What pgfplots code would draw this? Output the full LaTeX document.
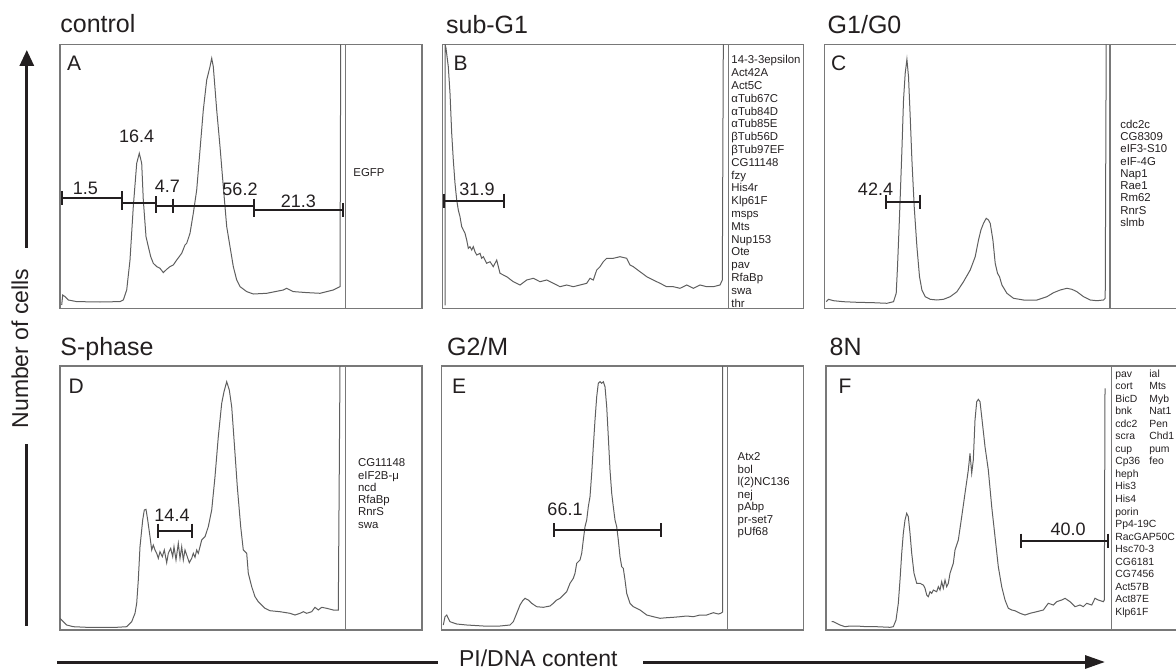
\documentclass[border=0pt]{standalone}
\usepackage{pgfplots}
\pgfplotsset{compat=1.18}
\usepackage{fontspec}
\setmainfont{Liberation Sans}
\usetikzlibrary{arrows.meta}

\definecolor{framegray}{RGB}{120,120,120}
\definecolor{tracegray}{RGB}{95,95,95}
\definecolor{ink}{RGB}{35,31,32}

% one histogram panel; units are image pixels (1px = 0.5pt)
\pgfplotsset{
  hist/.style={
    anchor=south west,
    scale only axis,
    width=142.75pt, height=132pt,
    xmin=0, xmax=285.5, ymin=0, ymax=264,
    ticks=none,
    axis line style={framegray, line width=0.6pt},
  },
  trace/.style={tracegray, line width=0.5pt, no markers},
  gate/.style={ink, line width=1pt, mark=|, mark size=3.5pt, mark options={solid}},
}
\tikzset{
  gatelabel/.style={font=\fontsize{9}{10}\selectfont, text=ink, inner sep=0pt},
  paneltitle/.style={font=\fontsize{12.5}{14}\selectfont, anchor=base west, inner sep=0pt, text=ink},
  panelletter/.style={font=\fontsize{10.5}{12}\selectfont, anchor=base west, inner sep=0pt, text=ink},
  genes/.style={font=\fontsize{5.7}{6.3}\selectfont, anchor=base west, inner sep=0pt, text=ink},
  genesF/.style={font=\fontsize{5.2}{6}\selectfont, anchor=base west, inner sep=0pt, text=ink},
}

\begin{document}
\begin{tikzpicture}[x=0.5pt, y=0.5pt]
\useasboundingbox (0,0) rectangle (1176,670);
\clip (0,0) rectangle (1176,670);

% ---------- A: control
\begin{axis}[hist, name=A, at={(60,361.7)}]
\addplot[trace] coordinates {
(1.7,3.3)(2.7,13.3)(5,11.7)(8.3,8.3)(16.7,6.7)(40,6.3)(60,6.7)(63.3,8.3)
(66.7,18.3)(70,48.3)(73.3,101.7)(76.7,145)(79.3,155)(81.7,145)(83.3,108.3)
(86,71.7)(88.3,61.7)(90.7,51.7)(93.3,45)(96.7,41.7)(100,40)(103.3,35.7)
(106.7,39)(110,41.7)(113.3,43.3)(116.7,48.3)(121.7,55)(125,63.3)(126.7,65)
(130,75)(133.3,95)(136.7,118.3)(140,158.3)(143.3,198.3)(146.7,228.3)
(150,241.7)(151.7,250)(153.3,241.7)(156.7,198.3)(160,161.7)(163.3,121.7)
(166.7,81.7)(170,61.7)(173.3,41.7)(176.7,28.3)(180,21.7)(186.7,16.7)
(193.3,14.3)(206.7,15)(223.3,18.3)(226.7,20)(233.3,16.7)(246.7,15.7)
(260,15)(273.3,18.3)(280,21.7)(280.7,264)};
\addplot[gate] coordinates {(2.3,110)(61.7,110)};
\addplot[gate] coordinates {(61.7,105)(96,105)};
\addplot[gate] coordinates {(96,102.6)(112.7,102.6)};
\addplot[gate] coordinates {(112.7,102.6)(194.3,102.6)};
\addplot[gate] coordinates {(194.3,98.3)(283.3,98.3)};
\node[gatelabel] at (axis cs:25.3,120) {1.5};
\node[gatelabel] at (axis cs:76.7,171.6) {16.4};
\node[gatelabel] at (axis cs:107.3,121.6) {4.7};
\node[gatelabel] at (axis cs:180,119.3) {56.2};
\node[gatelabel] at (axis cs:238.3,106.6) {21.3};
\end{axis}

% ---------- B: sub-G1
\begin{axis}[hist, name=B, at={(442.7,361.7)}]
\addplot[trace] coordinates {
(2.3,3)(2.3,264)(3.3,260)(5.6,241.6)(7.3,215)(9,175)(10.6,148.3)(12.3,125)
(14,108.3)(15.6,98.3)(17.3,91.6)(19,81.6)(20.6,78.3)(22.3,75)(24,68.3)
(25.6,60)(27.3,61.6)(29,58.3)(30.6,61.6)(32.3,56.6)(34,53.3)(37.3,55)
(39,50)(40.6,51.6)(44,45)(47.3,46.6)(50.6,41.6)(54,48.3)(57.3,35)(64,31.6)
(70.6,26.6)(77.3,23.3)(84,28.3)(90.6,30)(97.3,26.6)(104,28.3)(110.6,25)
(117.3,21.6)(124,23.3)(130.6,21.6)(137.3,23.3)(144,25)(147.3,30)(150.6,28.3)
(154,38.3)(157.3,41.6)(160.6,46.6)(164,50)(170.6,50)(177.3,51.6)(184,50)
(187.3,43.3)(190.6,41.6)(197.3,36.6)(204,31.6)(210.6,28.3)(217.3,25)
(224,21.6)(230.6,21.6)(237.3,20)(244,23.3)(250.6,20)(257.3,23.3)(264,21.6)
(270.6,21.6)(277.3,23.3)(279.6,28.3)(280.6,264)};
\addplot[gate] coordinates {(1.3,107.6)(61.3,107.6)};
\node[gatelabel] at (axis cs:34.3,119.3) {31.9};
\end{axis}

% ---------- C: G1/G0
\begin{axis}[hist, name=C, at={(824.5,361.7)}]
\addplot[trace] coordinates {
(1.7,6.6)(4,9)(9,7.6)(19,6.6)(32.4,6)(49,5.6)(62.4,5)(69,6.6)(71.7,15)
(73,41.6)(75,91.6)(77.4,158.3)(79,208.3)(80.7,235)(82.4,249)(84,231.6)
(85.7,191.6)(87.4,148.3)(89.7,101.6)(92.4,61.6)(95,31.6)(97.4,18.3)
(100.7,11.6)(105.7,9)(112.4,8.3)(119,9)(125.7,11.6)(132.4,16.6)(139,26.6)
(145.7,38.3)(150.7,51.6)(154,68.3)(156.4,78.3)(159,85)(161.7,90)(164,88.3)
(165.7,85)(168.4,68.3)(170.7,45)(173,35)(175,31.6)(177.4,23.3)(182.4,15)
(189,10)(199,8.3)(212.4,8.3)(222.4,11.6)(229,15.6)(235.7,18.3)(242.4,20)
(247.4,19)(252.4,16.6)(259,11.6)(265.7,8.3)(272.4,7.6)(279,8.3)(280.7,10)
(281.7,264)};
\addplot[gate] coordinates {(61.7,106.6)(95.7,106.6)};
\node[gatelabel] at (axis cs:51,119.3) {42.4};
\end{axis}

% ---------- D: S-phase
\begin{axis}[hist, name=D, at={(60,40)}]
\addplot[trace] coordinates {
(0,11.7)(3.3,8.3)(6.7,5)(13.3,3.3)(26.7,2.7)(40,2.7)(56.7,2.7)(66.7,3.3)
(71.7,8.3)(75,16.7)(76.7,26.7)(78.3,50)(80,83.3)(82.7,110)(84.3,120)
(86,120.7)(87.7,110)(90,93.3)(91.7,80)(93.3,85)(95,80)(96.7,76.7)(98.3,71.7)
(100,78.3)(102.3,73.3)(104.3,80)(106.7,67.3)(108.3,76.7)(110.7,81.7)
(112.7,73.3)(114,83.3)(116,70)(118.3,86.7)(120,71.7)(121.7,83.3)(123.3,70)
(125,80)(126.7,75)(129.3,67.3)(131.7,71.7)(133.3,76.7)(135,72.7)(136.7,80)
(138.3,76.7)(140,83.3)(141.7,90)(143.3,91.7)(145,93.3)(148.3,103.3)
(151.7,120)(155,153.3)(158.3,193.3)(161.7,226.7)(164,238.3)(166.7,248.3)
(169.3,240)(171.7,223.3)(174.3,186.7)(177.3,143.3)(180.7,103.3)(183.3,80)
(186.7,76.7)(188.3,56.7)(191.7,43.3)(195,33.3)(198.3,28.3)(201.7,25)
(205,21.7)(210,19.3)(220,18.3)(230,16.7)(235,15)(240,16.7)(243.3,18.3)
(246.7,16.7)(251.7,18.3)(255,22.7)(258.3,20)(261.7,22.7)(266.7,21.7)
(273.3,20)(278.3,20)(280,264)};
\addplot[gate] coordinates {(98.3,99.3)(131.7,99.3)};
\node[gatelabel] at (axis cs:112,114.7) {14.4};
\end{axis}

% ---------- E: G2/M
\begin{axis}[hist, name=E, at={(441.7,40)}]
\addplot[trace] coordinates {
(1.6,5)(3.3,13.3)(5,15)(6.6,11.7)(8.3,8.3)(15,6)(25,5)(41.6,4)(58.3,4)
(68.3,5)(71.6,8.3)(75,16.7)(78.3,25)(81,29.3)(83.3,31.7)(86.6,30)(90,26.7)
(95,23.3)(101.6,22.7)(108.3,24)(111.6,26.7)(115,30)(118.3,31.7)(121.6,35)
(125,38.3)(128.3,46.7)(131.6,51.7)(133.3,56.7)(135,66.7)(138.3,70)(140,76.7)
(141.6,90)(143.3,103.3)(145,110)(146.6,123.3)(148.3,133.3)(150,156.7)
(151.6,183.3)(153.3,210)(155,233.3)(156.6,246.7)(158.3,248.3)(160,246.7)
(161.6,248.3)(163.3,243.3)(165,223.3)(166.6,193.3)(168.3,160)(170,136.7)
(171.6,123.3)(173.3,110)(175,103.3)(176.6,90)(178.3,73.3)(180,63.3)
(181.6,61.7)(183.3,50)(185,36.7)(188.3,26.7)(191.6,23.3)(195,21.7)(198.3,20)
(205,15)(211.6,13.3)(218.3,11.7)(225,12.3)(231.6,12.7)(238.3,13.3)(245,14)
(251.6,13.3)(258.3,15)(265,15)(271.6,17.3)(276.6,16)(279,16.7)(281,18)
(281,264)};
\addplot[gate] coordinates {(112.3,100)(219,100)};
\node[gatelabel] at (axis cs:123.3,121) {66.1};
\end{axis}

% ---------- F: 8N
\begin{axis}[hist, name=F, at={(826,40)}]
\addplot[trace] coordinates {
(5.7,8.3)(7.3,8.3)(10.7,6.7)(14,5)(19,3.3)(24,4)(30.7,4)(40.7,3.3)(50.7,3.3)
(64,2.7)(67.3,3.3)(70,10)(72.3,26.7)(74,50)(75.7,76.7)(77.3,96.7)(79,110)
(80.7,116.7)(82.3,113.3)(84,96.7)(85.7,76.7)(88,56.7)(90.7,46.7)(94,46.7)
(97.3,45)(99,41.7)(100.7,35)(102.3,33.3)(104,38.3)(105.7,36.7)(107.3,40)
(110.7,38.3)(112.3,43.3)(114,40)(115.7,48.3)(117.3,41.7)(119,50)(120.7,43.3)
(122.3,46.7)(124,56.7)(127.3,66.7)(129,80)(132.3,90)(135.7,113.3)
(139,136.7)(142.3,160)(144,176.7)(145.7,156.7)(147.3,170)(149,210)
(150.7,228.3)(152.3,230.7)(154,228.3)(155.7,213.3)(159,183.3)(162.3,160)
(165.7,123.3)(169,93.3)(172.3,63.3)(175.7,43.3)(179,30)(182.3,21.7)
(185.7,20)(189,19.3)(194,16.7)(199,15)(204,16.7)(210.7,18.3)(217.3,20)
(222.3,26.7)(227.3,25)(230.7,28.3)(235.7,30)(239,31.7)(244,28.3)(249,23.3)
(254,25)(257.3,23.3)(260.7,26.7)(265.7,25)(269,31.7)(272.3,30)(277.3,28.3)
(278.3,30)(279,241.7)};
\addplot[gate] coordinates {(194.7,89.3)(282.3,89.3)};
\node[gatelabel] at (axis cs:242,101) {40.0};
\end{axis}

% ---------- gene boxes
\draw[framegray, line width=0.6pt] (A.south east) rectangle (422,625.7);
\draw[framegray, line width=0.6pt] (B.south east) rectangle (803.3,625.7);
\draw[framegray, line width=0.6pt] (C.south east) rectangle (1190,625.7);
\draw[framegray, line width=0.6pt] (D.south east) rectangle (422,304);
\draw[framegray, line width=0.6pt] (E.south east) rectangle (803.3,304);
\draw[framegray, line width=0.6pt] (F.south east) rectangle (1190,304);

\node[genes] at (353,493) {EGFP};
\foreach \g [count=\i from 0] in {14-3-3epsilon, Act42A, Act5C, αTub67C,
  αTub84D, αTub85E, βTub56D, βTub97EF, CG11148, fzy, His4r, Klp61F, msps,
  Mts, Nup153, Ote, pav, RfaBp, swa, thr}
  \node[genes] at (731, {606-\i*12.8}) {\g};
\foreach \g [count=\i from 0] in {cdc2c, CG8309, eIF3-S10, eIF-4G, Nap1,
  Rae1, Rm62, RnrS, slmb}
  \node[genes] at (1120, {541.5-\i*12.25}) {\g};
\foreach \g [count=\i from 0] in {CG11148, eIF2B-μ, ncd, RfaBp, RnrS, swa}
  \node[genes] at (357.7, {203.3-\i*12.3}) {\g};
\foreach \g [count=\i from 0] in {Atx2, bol, l(2)NC136, nej, pAbp, pr-set7, pUf68}
  \node[genes] at (737.3, {209.5-\i*12.5}) {\g};
\foreach \g [count=\i from 0] in {pav, cort, BicD, bnk, cdc2, scra, cup, Cp36,
  heph, His3, His4, porin, Pp4-19C, RacGAP50C, Hsc70-3, CG6181, CG7456,
  Act57B, Act87E, Klp61F}
  \node[genesF] at (1115, {293-\i*12.55}) {\g};
\foreach \g [count=\i from 0] in {ial, Mts, Myb, Nat1, Pen, Chd1, pum, feo}
  \node[genesF] at (1149, {293-\i*12.55}) {\g};

% ---------- titles and panel letters
\node[paneltitle] at (60,637) {control};
\node[paneltitle] at (445.7,636.7) {sub-G1};
\node[paneltitle] at (827.3,636.7) {G1/G0};
\node[paneltitle] at (60,315) {S-phase};
\node[paneltitle] at (446.7,315) {G2/M};
\node[paneltitle] at (829.3,315) {8N};
\node[panelletter] at (66.7,599) {A};
\node[panelletter] at (453.3,599) {B};
\node[panelletter] at (830.7,599) {C};
\node[panelletter] at (68.3,276.7) {D};
\node[panelletter] at (451.7,276.7) {E};
\node[panelletter] at (838.3,276.7) {F};

% ---------- outer axis labels
\draw[ink, line width=1.5pt, -{Triangle[length=8pt,width=7pt]}] (26.8,422) -- (26.8,620);
\draw[ink, line width=1.5pt] (26.8,226) -- (26.8,44);
\node[rotate=90, font=\fontsize{11.5}{13}\selectfont, text=ink] at (20,321.5) {Number of cells};
\draw[ink, line width=1.5pt] (57.3,8) -- (438.3,8);
\draw[ink, line width=1.5pt, -{Triangle[length=10pt,width=6.5pt]}] (643.3,8) -- (1105,8);
\node[anchor=base, inner sep=0pt, font=\fontsize{11.5}{13}\selectfont, text=ink] at (538.3,3.5) {PI/DNA content};
\end{tikzpicture}
\end{document}
